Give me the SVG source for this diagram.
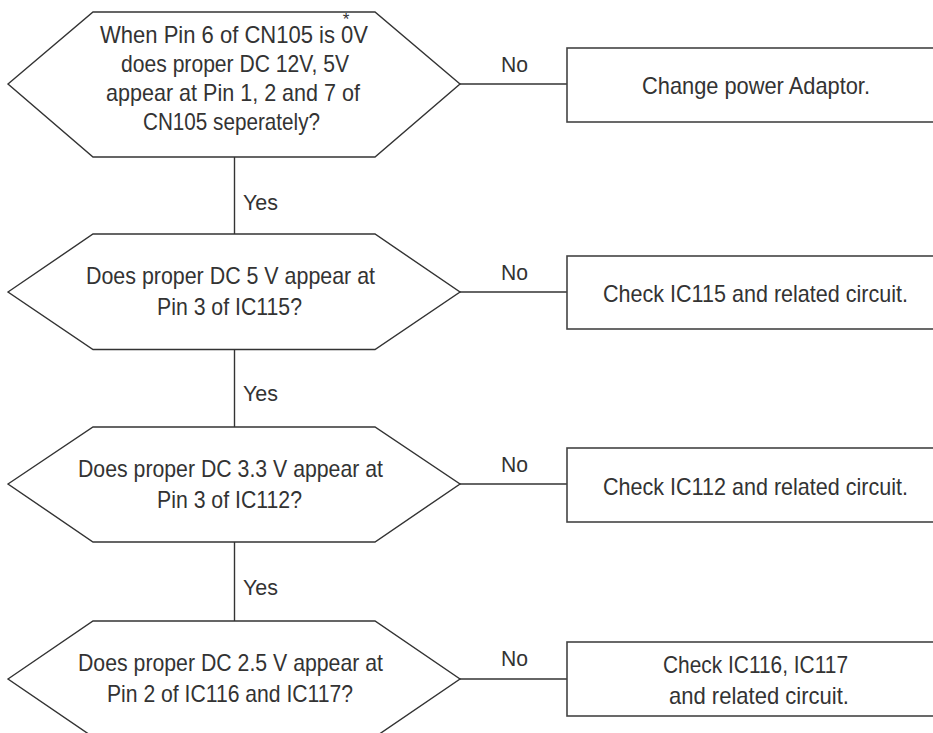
<svg xmlns="http://www.w3.org/2000/svg" width="933" height="733" viewBox="0 0 933 733">
<style>
.shape{fill:#fff;stroke:#333;stroke-width:1.4}
.box{fill:#fff;stroke:#444;stroke-width:1.6}
.conn{stroke:#333;stroke-width:1.4;fill:none}
text{font-family:"Liberation Sans",Arial,sans-serif;font-size:24px;fill:#333}
.lbl{font-size:22px}
.star{font-size:17px}
</style>
<rect width="933" height="733" fill="#fff"/>
<g id="connectors">
<line class="conn" x1="460" y1="84" x2="567" y2="84"/>
<line class="conn" x1="460" y1="292" x2="567" y2="292"/>
<line class="conn" x1="460" y1="484" x2="567" y2="484"/>
<line class="conn" x1="460" y1="679" x2="567" y2="679"/>
<line class="conn" x1="234.5" y1="157" x2="234.5" y2="234"/>
<line class="conn" x1="234.5" y1="349.5" x2="234.5" y2="427"/>
<line class="conn" x1="234.5" y1="542" x2="234.5" y2="621"/>
<text class="lbl" x="501" y="72" textLength="27" lengthAdjust="spacingAndGlyphs">No</text>
<text class="lbl" x="501" y="280" textLength="27" lengthAdjust="spacingAndGlyphs">No</text>
<text class="lbl" x="501" y="472" textLength="27" lengthAdjust="spacingAndGlyphs">No</text>
<text class="lbl" x="501" y="666" textLength="27" lengthAdjust="spacingAndGlyphs">No</text>
<text class="lbl" x="243" y="210" textLength="35" lengthAdjust="spacingAndGlyphs">Yes</text>
<text class="lbl" x="243" y="401" textLength="35" lengthAdjust="spacingAndGlyphs">Yes</text>
<text class="lbl" x="243" y="595" textLength="35" lengthAdjust="spacingAndGlyphs">Yes</text>
</g>
<g id="q1">
<polygon class="shape" points="8,84 93,12 375,12 460,84 375,157 93,157"/>
<text x="100" y="43" textLength="268" lengthAdjust="spacingAndGlyphs">When Pin 6 of CN105 is 0V</text>
<text class="star" x="346" y="25" text-anchor="middle">*</text>
<text x="121" y="72" textLength="228" lengthAdjust="spacingAndGlyphs">does proper DC 12V, 5V</text>
<text x="106" y="101" textLength="254" lengthAdjust="spacingAndGlyphs">appear at Pin 1, 2 and 7 of</text>
<text x="143" y="130" textLength="177" lengthAdjust="spacingAndGlyphs">CN105 seperately?</text>
</g>
<g id="a1">
<rect class="box" x="567" y="48" width="370" height="74"/>
<text x="642" y="94" textLength="228" lengthAdjust="spacingAndGlyphs">Change power Adaptor.</text>
</g>
<g id="q2">
<polygon class="shape" points="8,292 93,234 375,234 460,292 375,349.5 93,349.5"/>
<text x="86" y="284" textLength="289" lengthAdjust="spacingAndGlyphs">Does proper DC 5 V appear at</text>
<text x="157" y="315" textLength="145" lengthAdjust="spacingAndGlyphs">Pin 3 of IC115?</text>
</g>
<g id="a2">
<rect class="box" x="567" y="256" width="370" height="73"/>
<text x="603" y="302" textLength="305" lengthAdjust="spacingAndGlyphs">Check IC115 and related circuit.</text>
</g>
<g id="q3">
<polygon class="shape" points="8,484 93,427 375,427 460,484 375,542 93,542"/>
<text x="78" y="477" textLength="305" lengthAdjust="spacingAndGlyphs">Does proper DC 3.3 V appear at</text>
<text x="157" y="508" textLength="145" lengthAdjust="spacingAndGlyphs">Pin 3 of IC112?</text>
</g>
<g id="a3">
<rect class="box" x="567" y="448" width="370" height="74"/>
<text x="603" y="495" textLength="305" lengthAdjust="spacingAndGlyphs">Check IC112 and related circuit.</text>
</g>
<g id="q4">
<polygon class="shape" points="8,679 93,621 375,621 460,679 375,737 93,737"/>
<text x="78" y="671" textLength="305" lengthAdjust="spacingAndGlyphs">Does proper DC 2.5 V appear at</text>
<text x="107" y="702" textLength="246" lengthAdjust="spacingAndGlyphs">Pin 2 of IC116 and IC117?</text>
</g>
<g id="a4">
<rect class="box" x="567" y="642" width="370" height="74"/>
<text x="663" y="673" textLength="185" lengthAdjust="spacingAndGlyphs">Check IC116, IC117</text>
<text x="669" y="704" textLength="180" lengthAdjust="spacingAndGlyphs">and related circuit.</text>
</g>
</svg>
